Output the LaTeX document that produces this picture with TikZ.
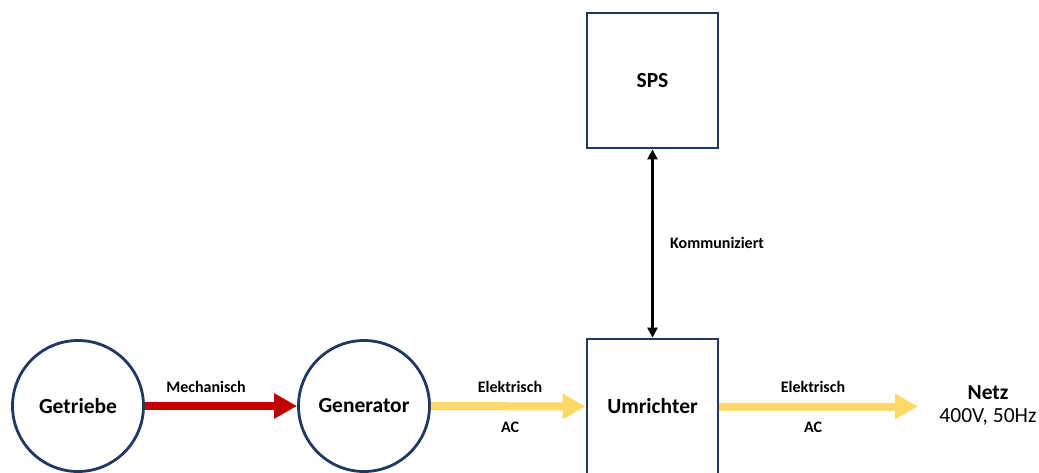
\documentclass[tikz,border=0pt]{standalone}
\usepackage{fontspec}
\setmainfont{Carlito}
\usetikzlibrary{arrows.meta}
\definecolor{navy}{HTML}{1F3864}
\definecolor{mechred}{HTML}{C00000}
\definecolor{elecyellow}{HTML}{FFD966}
\tikzset{
  unit/.style={draw=navy, line width=2.8pt, fill=white, inner sep=0pt,
    font=\fontsize{21.5}{25}\selectfont\bfseries},
  roundunit/.style={unit, circle, minimum size=131pt},
  boxunit/.style={unit, rectangle, minimum width=131pt, minimum height=135pt},
  flow/.style={line width=8pt, -{Triangle[width=24pt,length=23pt]}},
  mechflow/.style={flow, draw=mechred},
  elecflow/.style={flow, draw=elecyellow},
  signal/.style={line width=2.4pt, {Triangle[width=10pt,length=10pt]}-{Triangle[width=10pt,length=10pt]}},
  flowlabel/.style={font=\fontsize{16}{19}\selectfont\bfseries, inner sep=0pt},
}
\begin{document}
\begin{tikzpicture}[x=1pt, y=-1pt]
  \useasboundingbox (0,0) rectangle (1039,473);

  % units
  \node[roundunit] (getriebe) at (78,406) {Getriebe};
  \node[roundunit] (generator) at (364,406) {Generator};
  \node[boxunit] (umrichter) at (652.5,406.5) {Umrichter};
  \node[boxunit] (sps) at (652.5,80.5) {SPS};
  \coordinate (netzin) at (918,406.5);
  \node[font=\fontsize{21.5}{25}\selectfont, align=center, inner sep=0pt] (netz) at (988,405)
    {\textbf{Netz}\\[-2pt]400V, 50Hz};

  % energy flows
  \draw[mechflow] (getriebe.east) -- (generator.west);
  \draw[elecflow] (generator.east) -- (umrichter.west);
  \draw[elecflow] (umrichter.east) -- (netzin);

  % communication link
  \draw[signal] (sps.south) -- (umrichter.north);

  % flow labels
  \node[flowlabel] (lmech) at (206,387) {Mechanisch};
  \node[flowlabel] (lel1) at (510,387) {Elektrisch};
  \node[flowlabel] (lac1) at (510,427) {AC};
  \node[flowlabel] (lel2) at (813,387) {Elektrisch};
  \node[flowlabel] (lac2) at (813,427) {AC};
  \node[flowlabel, anchor=west] (lkom) at (670,243) {Kommuniziert};
\end{tikzpicture}
\end{document}
